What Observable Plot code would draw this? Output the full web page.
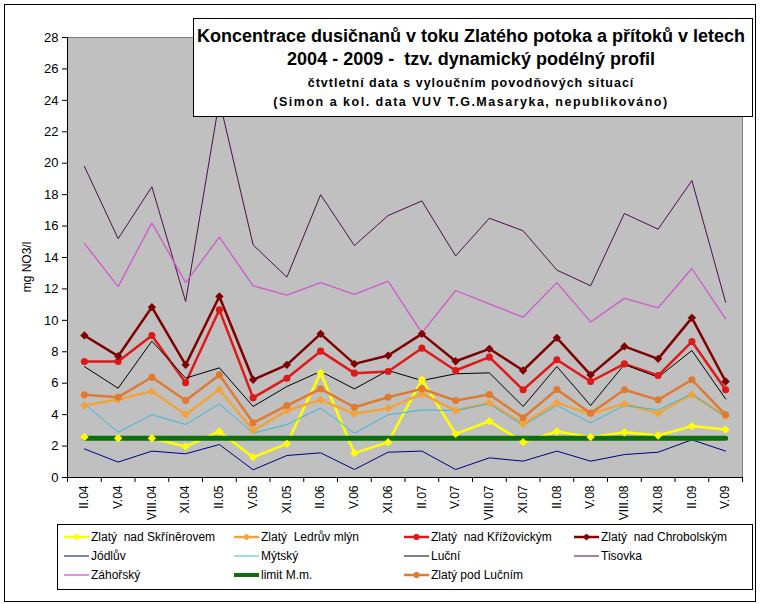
<!DOCTYPE html>
<html>
<head>
<meta charset="utf-8">
<script src="https://cdn.jsdelivr.net/npm/d3@7"></script>
<script src="https://cdn.jsdelivr.net/npm/@observablehq/plot@0.6"></script>
<style>
  html, body { margin: 0; padding: 0; background: #fff; }
  #chart svg { display: block; }
  text { white-space: pre; }
</style>
</head>
<body>
<div id="chart"></div>
<script>
// ---- data ----
const categories = ["II.04","V.04","VIII.04","XI.04","II.05","V.05","XI.05","II.06","V.06","XI.06","II.07","V.07","VIII.07","XI.07","II.08","V.08","VIII.08","XI.08","II.09","V.09"];
const yTicks = [0,2,4,6,8,10,12,14,16,18,20,22,24,26,28];

const zlatySkrinerov   = [2.57,2.5,2.5,1.97,2.93,1.29,2.14,6.66,1.55,2.25,6.22,2.78,3.58,2.25,2.93,2.57,2.88,2.67,3.27,3.05];
const zlatyLedruv      = [4.58,4.96,5.49,4.01,5.6,2.99,4.26,4.94,4.05,4.41,5.32,4.26,4.75,3.41,4.75,4.05,4.69,4.09,5.28,3.9];
const zlatyKrizovicky  = [7.38,7.38,9.04,6.03,10.67,5.07,6.32,8.04,6.64,6.75,8.23,6.81,7.66,5.58,7.49,6.11,7.23,6.49,8.65,5.58];
const zlatyChrobolsky  = [9.04,7.72,10.84,7.17,11.52,6.22,7.17,9.14,7.23,7.76,9.14,7.4,8.19,6.81,8.89,6.53,8.34,7.55,10.16,6.11];
const jodluv           = [1.82,0.98,1.68,1.51,2.1,0.49,1.4,1.57,0.51,1.61,1.68,0.51,1.25,1.04,1.68,1.04,1.46,1.61,2.4,1.68];
const mytsky           = [4.69,2.88,4.0,3.37,4.69,2.82,3.37,4.43,2.82,3.99,4.3,4.26,4.69,3.31,4.58,3.48,4.58,4.3,5.32,3.84];
const lucni            = [7.06,5.68,8.68,6.32,6.98,4.52,5.79,6.75,5.64,6.81,6.17,6.6,6.66,4.52,7.06,4.58,7.19,6.38,8.08,5.0];
const tisovka          = [19.8,15.2,18.5,11.2,24.0,14.8,12.75,18.0,14.76,16.67,17.6,14.1,16.5,15.7,13.2,12.2,16.8,15.8,18.9,11.15];
const zahorsky         = [14.9,12.15,16.2,12.4,15.3,12.2,11.6,12.4,11.65,12.5,9.2,11.9,11.05,10.2,12.4,9.9,11.4,10.8,13.3,10.1];
const limitMm          = [2.5,2.5,2.5,2.5,2.5,2.5,2.5,2.5,2.5,2.5,2.5,2.5,2.5,2.5,2.5,2.5,2.5,2.5,2.5,2.5];
const zlatyPodLucnim   = [5.26,5.11,6.38,4.9,6.53,3.48,4.58,5.64,4.47,5.11,5.64,4.9,5.28,3.8,5.6,4.09,5.58,4.94,6.22,3.99];

const seriesNames = ["Zlatý  nad Skříněrovem","Zlatý  Ledrův mlýn","Zlatý  nad Křížovickým","Zlatý  nad Chrobolským","Jódlův","Mýtský","Luční","Tisovka","Záhořský","limit M.m.","Zlatý pod Lučním"];
const seriesValues = [zlatySkrinerov, zlatyLedruv, zlatyKrizovicky, zlatyChrobolsky, jodluv, mytsky, lucni, tisovka, zahorsky, limitMm, zlatyPodLucnim];

const titleLines = [
  "Koncentrace dusičnanů v toku Zlatého potoka a přítoků v letech",
  "2004 - 2009 -  tzv. dynamický podélný profil",
  "čtvtletní data s vyloučním povodňových situací",
  "(Simon a kol. data VUV T.G.Masaryka, nepublikováno)"
];
const yLabel = "mg NO3/l";

// ---- styles (separate from data) ----
const styles = [
  {color: "#ffff00", width: 2.5, symbol: "diamond2"},
  {color: "#f2a43a", width: 2.5, symbol: "diamond2"},
  {color: "#e01818", width: 2.5, symbol: "circle"},
  {color: "#800000", width: 2.5, symbol: "diamond2"},
  {color: "#000080", width: 1,   symbol: null},
  {color: "#38b8d8", width: 1,   symbol: null},
  {color: "#000000", width: 1,   symbol: null},
  {color: "#4a0f4a", width: 1,   symbol: null},
  {color: "#cc5ccc", width: 1.3, symbol: null},
  {color: "#0e6e0e", width: 5,   symbol: null},
  {color: "#e07a30", width: 2.5, symbol: "circle"}
];

const rows = [];
seriesNames.forEach((name, k) => {
  seriesValues[k].forEach((v, i) => rows.push({series: name, k, i, cat: categories[i], value: v}));
});

const font = "'Liberation Sans', Arial, sans-serif";

const lineMarks = seriesNames.map((name, k) =>
  Plot.line(rows.filter(d => d.k === k), {x: "i", y: "value", stroke: styles[k].color, strokeWidth: styles[k].width, strokeLinejoin: "miter"}));
const dotMarks = seriesNames.map((name, k) => styles[k].symbol ?
  Plot.dot(rows.filter(d => d.k === k), {x: "i", y: "value", symbol: styles[k].symbol, fill: styles[k].color, stroke: styles[k].color, r: 2.8}) : null).filter(Boolean);

const chart = Plot.plot({
  width: 760,
  height: 604,
  marginLeft: 67,
  marginRight: 18,
  marginTop: 37,
  marginBottom: 127,
  style: {fontFamily: font, fontSize: "12px", color: "#000", background: "#fff", overflow: "visible"},
  x: {type: "linear", domain: [-0.5, categories.length - 0.5]},
  y: {domain: [0, 28]},
  marks: [
    Plot.frame({fill: "#c0c0c0", stroke: "#808080"}),
    Plot.axisY({ticks: yTicks, tickSize: 5, tickPadding: 4, label: null, fontSize: 13}),
    Plot.axisX({ticks: d3.range(categories.length), tickFormat: i => categories[i], tickRotate: -90, tickSize: 0, tickPadding: 8, label: null, fontSize: 12}),
    Plot.axisX({ticks: d3.range(categories.length + 1).map(i => i - 0.5), tickFormat: () => "", tickSize: 5, label: null}),
    Plot.ruleX([-0.5], {stroke: "#000"}),
    Plot.ruleY([0], {stroke: "#000"}),
    ...lineMarks,
    ...dotMarks
  ]
});

document.getElementById("chart").appendChild(chart);
const svg = d3.select(chart);

// y label
svg.append("text")
  .attr("transform", "translate(31,267) rotate(-90)")
  .attr("text-anchor", "middle")
  .attr("font-family", font).attr("font-size", 12)
  .text(yLabel);

// title box
const tg = svg.append("g");
tg.append("rect").attr("x", 193.5).attr("y", 18.5).attr("width", 559).attr("height", 98)
  .attr("fill", "#fff").attr("stroke", "#000");
const tStyle = [
  {y: 42, size: 18, ls: 0},
  {y: 65, size: 18, ls: 0},
  {y: 87, size: 12.5, ls: 1},
  {y: 106, size: 12.5, ls: 1.5}
];
titleLines.forEach((t, j) => {
  tg.append("text").attr("x", 471).attr("y", tStyle[j].y)
    .attr("text-anchor", "middle").attr("font-family", font).attr("font-weight", "bold")
    .attr("font-size", tStyle[j].size).attr("letter-spacing", tStyle[j].ls)
    .text(t);
});

// legend
const lg = svg.append("g").attr("text-anchor", "start");
lg.append("rect").attr("x", 57.5).attr("y", 524.5).attr("width", 695).attr("height", 65)
  .attr("fill", "#fff").attr("stroke", "#000");
const colX = [64, 234, 404, 574];
const rowY = [537, 556, 575];
seriesNames.forEach((name, k) => {
  const cx = colX[k % 4], cy = rowY[Math.floor(k / 4)];
  const st = styles[k];
  lg.append("line").attr("x1", cx).attr("x2", cx + 25).attr("y1", cy).attr("y2", cy)
    .attr("stroke", st.color).attr("stroke-width", Math.min(st.width, 4));
  if (st.symbol) {
    const sym = d3.symbol(st.symbol === "diamond2" ? d3.symbolDiamond2 : d3.symbolCircle, 24);
    lg.append("path").attr("d", sym()).attr("transform", `translate(${cx + 12.5},${cy})`)
      .attr("fill", st.color).attr("stroke", st.color);
  }
  lg.append("text").attr("x", cx + 27).attr("y", cy).attr("dy", "0.35em")
    .attr("text-anchor", "start")
    .attr("font-family", font).attr("font-size", 12).text(name);
});

// outer border
svg.append("rect").attr("x", 4.5).attr("y", 4.5).attr("width", 751).attr("height", 597)
  .attr("fill", "none").attr("stroke", "#000");
</script>
</body>
</html>
